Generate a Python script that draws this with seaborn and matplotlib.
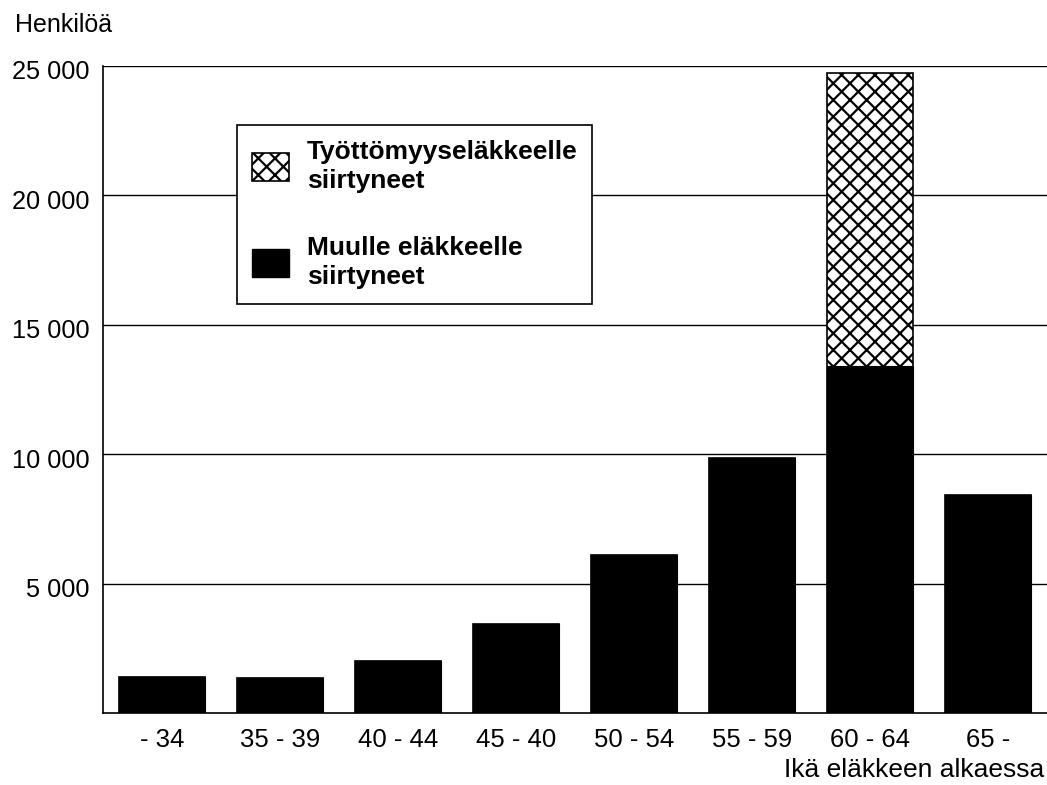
import matplotlib
matplotlib.use("Agg")
import matplotlib.pyplot as plt
import matplotlib.patches as mpatches
import matplotlib.transforms as mtransforms
import seaborn as sns
import pandas as pd

categories = ["- 34", "35 - 39", "40 - 44", "45 - 40", "50 - 54", "55 - 59", "60 - 64", "65 -"]
muu = [1400, 1350, 2000, 3450, 6100, 9850, 13400, 8400]
tyottomyys = [0, 0, 0, 0, 0, 0, 11300, 0]
yticks = [5000, 10000, 15000, 20000, 25000]
ytick_labels = ["5 000", "10 000", "15 000", "20 000", "25 000"]

sns.set_style("white")
plt.rcParams["font.family"] = ["Liberation Sans", "DejaVu Sans"]
plt.rcParams["hatch.linewidth"] = 1.6
plt.rcParams["text.color"] = "black"
plt.rcParams["xtick.color"] = "black"
plt.rcParams["ytick.color"] = "black"

df = pd.DataFrame({"ika": categories, "muu": muu,
                   "total": [m + t for m, t in zip(muu, tyottomyys)]})

fig = plt.figure(figsize=(10.47, 7.85), dpi=100)
ax = fig.add_axes([0.0984, 0.0917, 0.9016, 0.8248])

sns.barplot(data=df, x="ika", y="total", ax=ax, color="white", width=0.73,
            edgecolor="black", linewidth=1.2, hatch="xx", saturation=1)
sns.barplot(data=df, x="ika", y="muu", ax=ax, color="black", width=0.73,
            edgecolor="black", linewidth=0.8, saturation=1)

ax.set_xlim(-0.5, 7.5)
ax.set_ylim(0, 25000)
ax.set_yticks(yticks)
ax.set_yticklabels(ytick_labels, fontsize=18.3)
ax.tick_params(axis="x", labelsize=18.5, length=0, pad=11)
ax.tick_params(axis="y", length=0, pad=10)
off = mtransforms.ScaledTranslation(0, -4 / 100, fig.dpi_scale_trans)
for lbl in ax.get_yticklabels():
    lbl.set_transform(lbl.get_transform() + off)
ax.yaxis.grid(True, color="black", linewidth=1.0)
ax.set_axisbelow(True)
ax.set_xlabel("")
ax.set_ylabel("")
for s in ["top", "right"]:
    ax.spines[s].set_visible(False)
ax.spines["left"].set_color("black")
ax.spines["left"].set_linewidth(1.2)
ax.spines["bottom"].set_color("black")
ax.spines["bottom"].set_linewidth(1.2)

fig.text(0.014, 0.968, "Henkilöä", fontsize=18, ha="left", va="center")
fig.text(0.997, 0.019, "Ikä eläkkeen alkaessa", fontsize=19, ha="right", va="center")

h1 = mpatches.Patch(facecolor="white", edgecolor="black", hatch="xx", linewidth=1.2,
                    label="Työttömyyseläkkeelle\nsiirtyneet")
h2 = mpatches.Patch(facecolor="black", edgecolor="black",
                    label="Muulle eläkkeelle\nsiirtyneet")
leg = ax.legend(handles=[h1, h2], loc="upper left", bbox_to_anchor=(0.142, 0.908),
                borderaxespad=0, framealpha=1,
                prop={"weight": "bold", "size": 19}, frameon=True, fancybox=False,
                edgecolor="black", handlelength=1.4, handleheight=1.25,
                labelspacing=1.6, borderpad=0.55, handletextpad=0.7)
leg.get_frame().set_linewidth(1.2)
for t in leg.get_texts():
    t.set_linespacing(1.3)

fig.savefig("out.png", dpi=100, facecolor="white")
